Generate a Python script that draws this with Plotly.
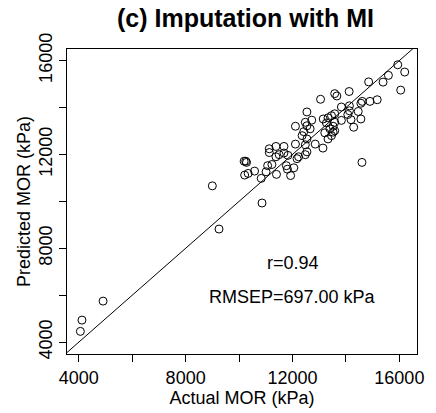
import plotly.graph_objects as go

actual = [15940, 16200, 15590, 15390, 14850, 16050, 14120, 13580, 13660, 13050,
          15170, 14900, 14610, 14560, 14130, 13830, 12540, 14460, 14130, 14070,
          13580, 13460, 13330, 13150, 12720, 12480, 14560, 14190, 13830, 13580,
          13270, 12540, 12110, 14290, 13520, 13400, 13580, 12660, 12420, 13210,
          13460, 13520, 12360, 13330, 12540, 12850, 12480, 12110, 13140, 11680,
          11380, 11130, 11130, 11680, 11500, 11830, 12480, 12230, 12540, 12170,
          11380, 10250, 10280, 14600, 11230, 11070, 11770, 12050, 11810, 10580,
          10340, 11400, 11930, 11010, 10830, 10860, 10190, 10210, 9000, 9250,
          4910, 4120, 4060]
predicted = [15820, 15510, 15370, 15080, 15090, 14740, 14680, 14590, 14490, 14350,
             14330, 14260, 14260, 14180, 14070, 14020, 13810, 13830, 13860, 13700,
             13730, 13650, 13560, 13510, 13460, 13370, 13510, 13480, 13450, 13370,
             13340, 13220, 13200, 13160, 13200, 13090, 13010, 13090, 12970, 12920,
             12800, 12950, 12800, 12660, 12660, 12440, 12410, 12440, 12270, 12340,
             12340, 12240, 12080, 12060, 11990, 11960, 11990, 11900, 12110, 11820,
             11900, 11710, 11660, 11660, 11570, 11520, 11520, 11430, 11370, 11290,
             11190, 11150, 11100, 11260, 10980, 9930, 11710, 11120, 10660, 8820,
             5750, 4940, 4460]

tick_vals = [4000, 6000, 8000, 10000, 12000, 14000, 16000]
tick_text = ["4000", "", "8000", "", "12000", "", "16000"]
line_ends = [3000, 17000]
r_label = "r=0.94"
rmsep_label = "RMSEP=697.00 kPa"

fig = go.Figure()
fig.add_trace(go.Scatter(x=line_ends, y=line_ends, mode="lines",
                         line=dict(color="black", width=1), hoverinfo="skip"))
fig.add_trace(go.Scatter(x=actual, y=predicted, mode="markers",
                         marker=dict(symbol="circle-open", size=8,
                                     color="black", line=dict(width=1, color="black"))))

font = "Liberation Sans, Arial, sans-serif"
fig.add_annotation(x=12000, y=7380, text=r_label, showarrow=False,
                   font=dict(family=font, size=18, color="black"))
fig.add_annotation(x=12000, y=5930, text=rmsep_label, showarrow=False,
                   font=dict(family=font, size=18, color="black"))

axis_common = dict(tickvals=tick_vals, ticktext=tick_text, ticks="outside",
                   ticklen=7, tickwidth=1, tickcolor="black",
                   showline=True, linecolor="black", linewidth=1, mirror=True,
                   showgrid=False, zeroline=False,
                   tickfont=dict(family=font, size=18, color="black"))

fig.update_layout(
    width=436, height=413,
    margin=dict(l=67, r=12, t=49, b=55),
    paper_bgcolor="white", plot_bgcolor="white",
    showlegend=False,
    title=dict(text="<b>(c) Imputation with MI</b>", x=0.563, xanchor="center",
               y=0.955, yanchor="middle",
               font=dict(family=font, size=25, color="black")),
    xaxis=dict(range=[3560, 16660],
               title=dict(text="Actual MOR (kPa)", standoff=1,
                          font=dict(family=font, size=18, color="black")),
               **axis_common),
    yaxis=dict(range=[3496, 16492], tickangle=-90,
               title=dict(text="Predicted MOR (kPa)", standoff=0,
                          font=dict(family=font, size=18, color="black")),
               **axis_common),
)

fig.write_html("out.html")
